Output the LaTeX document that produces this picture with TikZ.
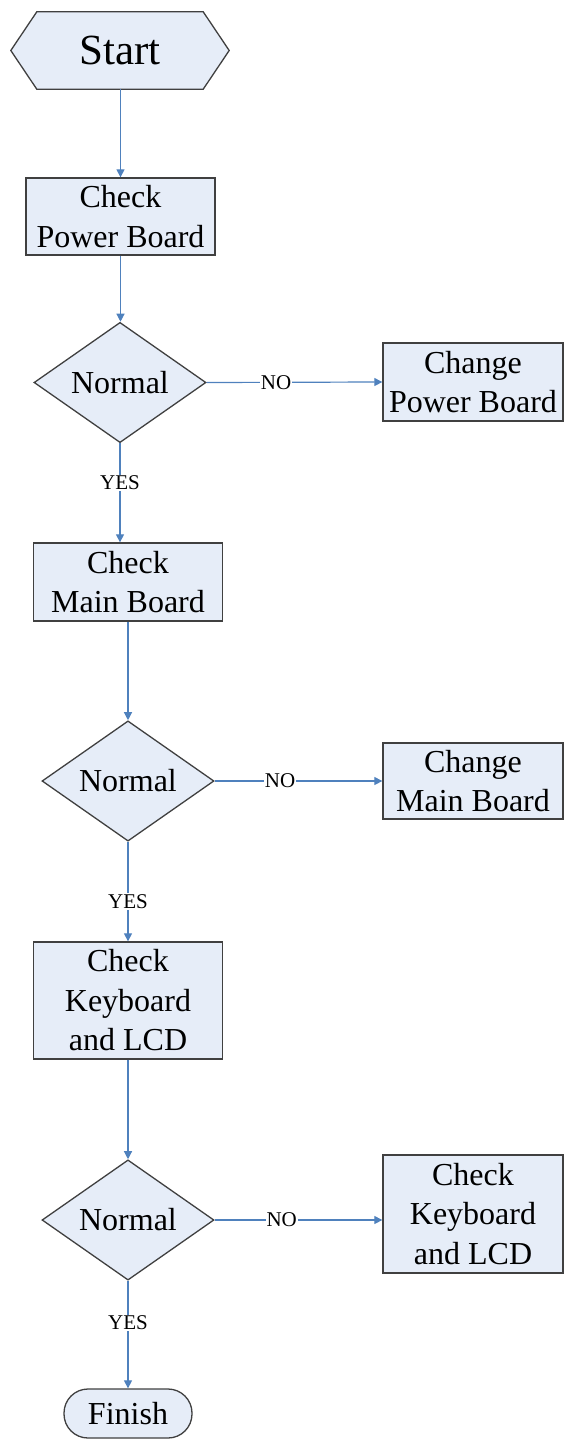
\documentclass[tikz,border=0pt]{standalone}
\usepackage{fontspec}
\setmainfont{Liberation Serif}
\usetikzlibrary{shapes.geometric,arrows.meta,backgrounds}
\definecolor{boxfill}{RGB}{230,237,248}
\definecolor{boxline}{RGB}{64,64,64}
\definecolor{arrowc}{RGB}{79,129,189}
\begin{document}
\begin{tikzpicture}[x=1pt,y=-1pt,
  base/.style={draw=boxline, fill=boxfill, line width=1.3pt, align=center, inner sep=0pt,
    font=\fontsize{32}{39.5}\selectfont},
  stepbox/.style={base, minimum width=189pt},
  sidebox/.style={base, minimum width=180pt},
  decision/.style={base, diamond, minimum width=172pt, minimum height=113pt},
  finishbox/.style={base, rounded corners=24pt, minimum width=128pt, minimum height=49pt},
  hexbox/.style={align=center, inner sep=0pt, minimum width=218pt, minimum height=77pt,
    font=\fontsize{43}{50}\selectfont},
  flow/.style={draw=arrowc, line width=1.2pt, -{Triangle[length=8pt,width=8pt]}},
  lbl/.style={fill=white, inner sep=1pt, font=\fontsize{21}{24}\selectfont}]
\useasboundingbox (0,0) rectangle (566,1439);

\node[hexbox] (start) at (120,50.5) {Start};
\begin{scope}[on background layer]
\draw[draw=boxline, fill=boxfill, line width=1.3pt]
  (start.west) -- ([xshift=26pt]start.north west) -- ([xshift=-26pt]start.north east)
  -- (start.east) -- ([xshift=-26pt]start.south east) -- ([xshift=26pt]start.south west) -- cycle;
\end{scope}

\node[stepbox, minimum height=77pt] (cpb) at (120.5,216.5) {Check\\Power Board};
\node[decision] (d1) at (120,382.5) {Normal};
\node[sidebox, minimum height=78pt] (chpb) at (473,382) {Change\\Power Board};

\node[stepbox, minimum height=78pt] (cmb) at (128,582) {Check\\Main Board};
\node[decision] (d2) at (128,781) {Normal};
\node[sidebox, minimum height=76pt] (chmb) at (473,781) {Change\\Main Board};

\node[stepbox, minimum height=117pt] (ckl) at (128,1000.5) {Check\\Keyboard\\and LCD};
\node[decision] (d3) at (128,1220) {Normal};
\node[sidebox, minimum height=118pt] (ckl2) at (473,1214) {Check\\Keyboard\\and LCD};

\node[finishbox] (fin) at (128,1413.5) {Finish};

\draw[flow] (start.south -| cpb.north) -- (cpb.north);
\draw[flow] (cpb.south) -- (cpb.south |- d1.north);
\draw[flow] (d1.east) -- node[lbl, pos=0.395] {NO} (chpb.west);
\draw[flow] (d1.south) -- node[lbl, pos=0.40] {YES} (d1.south |- cmb.north);
\draw[flow] (cmb.south) -- (d2.north);
\draw[flow] (d2.east) -- node[lbl, pos=0.39] {NO} (chmb.west);
\draw[flow] (d2.south) -- node[lbl, pos=0.6] {YES} (ckl.north);
\draw[flow] (ckl.south) -- (d3.north);
\draw[flow] (d3.east) -- node[lbl, pos=0.40] {NO} (d3.east -| ckl2.west);
\draw[flow] (d3.south) -- node[lbl, pos=0.39] {YES} (fin.north);
\end{tikzpicture}
\end{document}
